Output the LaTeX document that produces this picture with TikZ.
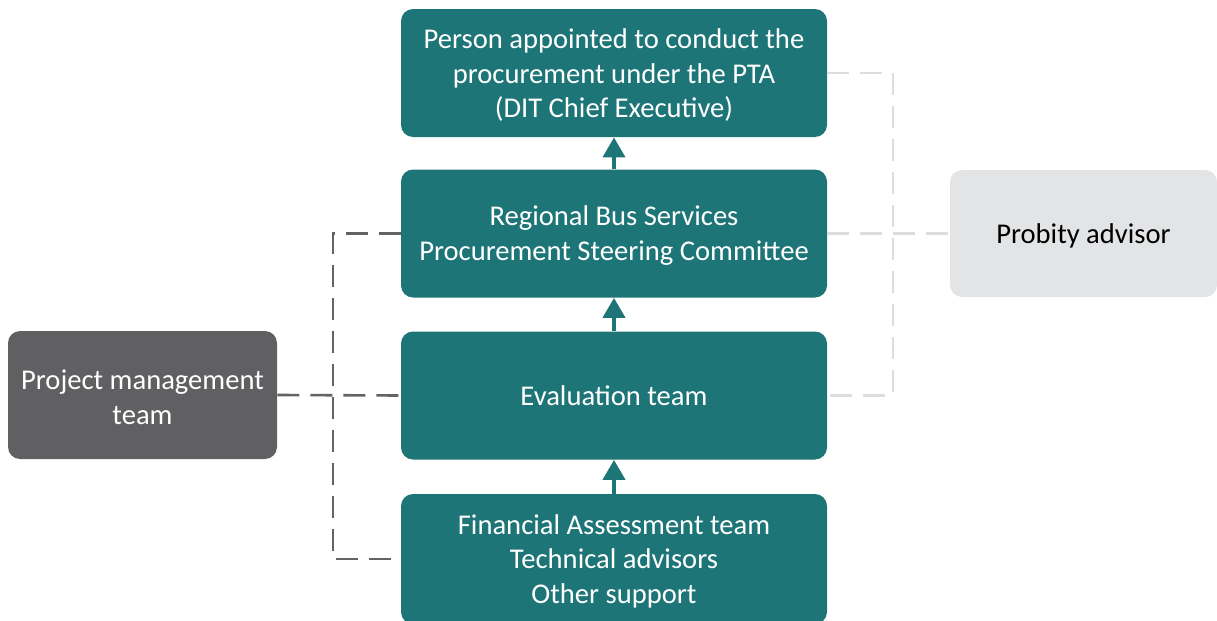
\documentclass[tikz,border=0pt]{standalone}
\usepackage{fontspec}
\setmainfont{Carlito}
\usepackage{xcolor}
\usetikzlibrary{arrows.meta, positioning, calc}

\definecolor{teal}{HTML}{1E7577}
\definecolor{pmgrey}{HTML}{606062}
\definecolor{advgrey}{HTML}{E3E4E6}
\definecolor{darkdash}{HTML}{636363}
\definecolor{lightdash}{HTML}{DDDDDD}

\tikzset{
  box/.style={rounded corners=6pt, align=center, inner sep=2pt,
    font=\fontsize{14.3}{17.25}\selectfont},
  govbox/.style={box, fill=teal, text=white, minimum width=213pt, minimum height=64pt},
  pmbox/.style={box, fill=pmgrey, text=white, minimum width=134.5pt, minimum height=64pt},
  advbox/.style={box, fill=advgrey, text=black, minimum width=133.5pt, minimum height=63.5pt},
  flow/.style={-{Triangle[width=11pt, length=10pt]}, draw=teal, line width=2pt},
  linkdark/.style={draw=darkdash, line width=1.3pt, dash pattern=on 11pt off 5.5pt},
  linklight/.style={draw=lightdash, line width=1.3pt, dash pattern=on 11pt off 5.5pt}
}

\begin{document}
\begin{tikzpicture}[x=0.5pt, y=-0.5pt]
        \useasboundingbox (0,0) rectangle (1217,621);
        \clip (0,0) rectangle (1217,621);

        % Reporting chain (text nudged down a little in the multi-line boxes)
        \node[govbox] (chief) at (614,73) {\rule{0pt}{12pt}Person appointed to conduct the\\procurement under the PTA\\(DIT Chief Executive)};
        \node[govbox] (steer) at (614,233.5) {\rule{0pt}{12pt}Regional Bus Services\\Procurement Steering Committee};
        \node[govbox] (eval) at (614,395.5) {Evaluation team};
        \node[govbox, minimum height=65pt] (support) at (614,559) {\rule{0pt}{12pt}Financial Assessment team\\Technical advisors\\Other support};

        % Side boxes
        \node[pmbox] (pm) at (142.5,395) {\rule{0pt}{12pt}Project management\\team};
        \node[advbox] (probity) at (1083.5,233.5) {\rule{0pt}{12pt}Probity advisor};

        % Upward arrows
        \draw[flow] (support.north) -- (eval.south);
        \draw[flow] (eval.north) -- (steer.south);
        \draw[flow] (steer.north) -- (chief.south);

        % Project management links
        \coordinate (pmbus) at (333,395);
        \draw[linkdark] (pm.east) -- (eval.west);
        \draw[linkdark] (steer.west) -| (pmbus) |- (support.west);

        % Probity links
        \coordinate (pbus) at (893,233.5);
        \draw[linklight] (chief.east) -| (pbus) |- (eval.east);
        \draw[linklight] (steer.east) -- (probity.west);
    \end{tikzpicture}
\end{document}
